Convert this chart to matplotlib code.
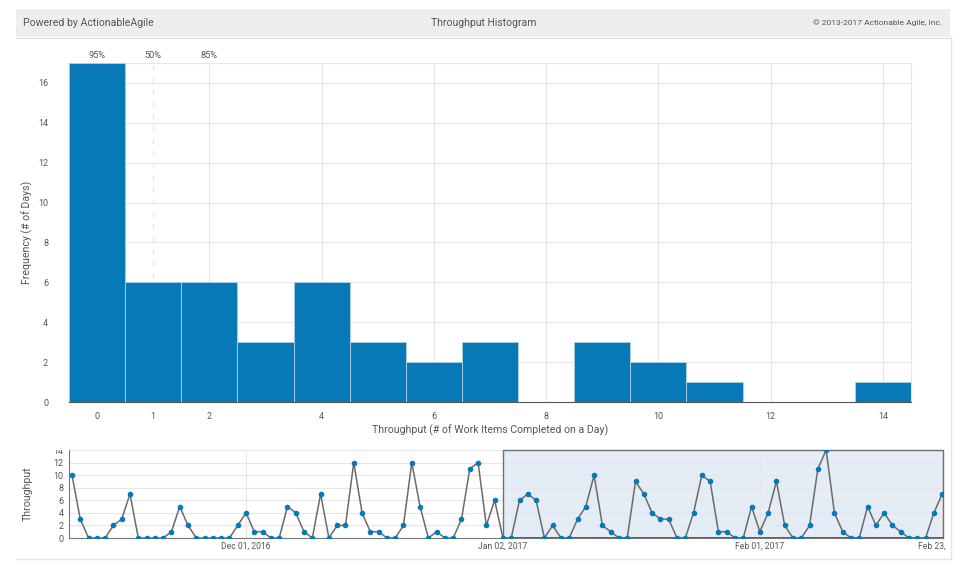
import matplotlib
matplotlib.use("Agg")
import matplotlib.pyplot as plt
from matplotlib.patches import Rectangle

plt.rcParams['font.family'] = ['Roboto', 'DejaVu Sans']

# Histogram data
bins = list(range(15))
frequency = [17, 6, 6, 3, 6, 3, 2, 3, 0, 3, 2, 1, 0, 0, 1]
hist_ticks = [0, 1, 2, 4, 6, 8, 10, 12, 14]
freq_ticks = [0, 2, 4, 6, 8, 10, 12, 14, 16]
percentile_labels = ['95%', '50%', '85%']
percentile_bins = [0, 1, 2]

# Daily throughput
throughput = [
    10, 3, 0, 0, 0, 2, 3, 7, 0, 0, 0, 0, 1, 5, 2, 0, 0, 0, 0, 0, 2, 4, 1, 1, 0, 0, 5, 4, 1, 0, 7,
    0, 2, 2, 12, 4, 1, 1, 0, 0, 2, 12, 5, 0, 1, 0, 0, 3, 11, 12, 2, 6, 0, 0, 6, 7, 6, 0, 2, 0, 0,
    3, 5, 10, 2, 1, 0, 0, 9, 7, 4, 3, 3, 0, 0, 4, 10, 9, 1, 1, 0, 0, 5, 1, 4, 9, 2, 0, 0, 2, 11,
    14, 4, 1, 0, 0, 5, 2, 4, 2, 1, 0, 0, 0, 4, 7,
]
date_idx = [21, 52, 83, 105]
date_labels = ['Dec 01, 2016', 'Jan 02, 2017', 'Feb 01, 2017', 'Feb 23, 2017']
throughput_ticks = [0, 2, 4, 6, 8, 10, 12, 14]
selection_start = 52

W, H = 960, 569
BLUE = '#0779b7'
GRID = '#e6e6e6'
TEXT = '#555555'


def px_axes(fig, left, top, right, bottom):
    return fig.add_axes([left / W, 1 - bottom / H, (right - left) / W, (bottom - top) / H])


fig = plt.figure(figsize=(W / 100, H / 100), dpi=100, facecolor='white')

# panel frame and header
fig.add_artist(Rectangle((16 / W, 1 - 37 / H), 934 / W, 28 / H, transform=fig.transFigure,
                         facecolor='#eeeeee', edgecolor='none'))
fig.add_artist(plt.Line2D([16 / W, 950 / W], [1 - 37.5 / H] * 2, color='#dddddd', lw=0.8))
fig.add_artist(plt.Line2D([16 / W, 950 / W], [1 - 558.5 / H] * 2, color='#e4e4e4', lw=1))
fig.add_artist(plt.Line2D([950.5 / W] * 2, [1 - 37 / H, 1 - 558.5 / H], color='#e4e4e4', lw=1))
fig.text(23 / W, 1 - 23 / H, 'Powered by ActionableAgile', fontsize=7.6, color=TEXT, va='center')
fig.text(483.5 / W, 1 - 23 / H, 'Throughput Histogram', fontsize=7.5, color=TEXT, va='center', ha='center')
fig.text(942 / W, 1 - 23 / H, '© 2013-2017 Actionable Agile, Inc.', fontsize=6.05, color=TEXT,
         va='center', ha='right')

# histogram
ax = px_axes(fig, 69, 63, 911, 402)
ax.bar(bins, frequency, width=1, color=BLUE, edgecolor='#a8cfe4', linewidth=0.7, zorder=3)
ax.set_xlim(-0.5, 14.5)
ax.set_ylim(0, 17)
ax.set_xticks(hist_ticks)
ax.set_yticks(freq_ticks)
ax.tick_params(axis='both', which='both', length=0, labelsize=6.5, labelcolor=TEXT)
ax.tick_params(axis='x', pad=7)
ax.tick_params(axis='y', pad=15)
ax.set_axisbelow(True)
ax.grid(True, axis='y', color=GRID, lw=0.8)
for b in range(2, 15, 2):
    ax.axvline(b, color=GRID, lw=0.8, zorder=1)
ax.axhline(17, color=GRID, lw=1.5, zorder=1)
ax.axvline(1, color='#e2e2e2', lw=0.8, ls=(0, (5, 6)), ymin=6.2 / 17, zorder=1)
ax.spines['top'].set_visible(False)
ax.spines['right'].set_color(GRID)
ax.spines['left'].set_color('#666666')
ax.spines['bottom'].set_color('#555555')
ax.set_xlabel('Throughput (# of Work Items Completed on a Day)', fontsize=7.55, color=TEXT, labelpad=3)
ax.yaxis.set_label_coords((33 - 69) / 842, 0.5)
ax.set_ylabel('Frequency (# of Days)', fontsize=7.55, color=TEXT)
for label, b in zip(percentile_labels, percentile_bins):
    ax.annotate(label, (b, 17), xytext=(0, 2.5), textcoords='offset points', ha='center', va='bottom',
                fontsize=6.6, color=TEXT, annotation_clip=False)

# throughput run chart
ax2 = px_axes(fig, 69, 450, 943, 538)
days = list(range(len(throughput)))
ax2.set_xlim(-0.36, 105.1)
ax2.set_ylim(0, 14)
ax2.axvspan(selection_start, 105.1, color='#e4ecf6', zorder=0, lw=0)
ax2.plot(days, throughput, color='#6b6b6b', lw=1.1, marker='o', markersize=3,
         markerfacecolor=BLUE, markeredgecolor=BLUE, zorder=3)
ax2.set_xticks(date_idx)
ax2.set_xticklabels(date_labels)
ax2.set_yticks(throughput_ticks)
ax2.tick_params(axis='both', length=0, labelsize=6.5, labelcolor=TEXT)
ax2.tick_params(axis='x', labelsize=6.2, pad=3)
ax2.tick_params(axis='y', pad=4)
ax2.grid(True, color=GRID, lw=0.8)
ax2.set_axisbelow(True)
for side in ['top', 'right']:
    ax2.spines[side].set_visible(False)
ax2.spines['left'].set_color('#777777')
ax2.spines['bottom'].set_color('#777777')
ax2.plot([selection_start, selection_start, 105.1, 105.1],
         [0, 14, 14, 0], color='#707070', lw=1, zorder=2, clip_on=False)
ax2.plot([selection_start, 105.1], [0, 0], color='#444444', lw=1.2, zorder=2, clip_on=False)
ax2.yaxis.set_label_coords((33 - 69) / 874, 0.52)
ax2.set_ylabel('Throughput', fontsize=7.55, color=TEXT)

# labels cut off at the panel edges, as in the chart
edge_clip = Rectangle((0, 0), 948 / W, 1, transform=fig.transFigure)
ax2.get_xticklabels()[-1].set_clip_path(edge_clip)
ax2.get_xticklabels()[-1].set_clip_on(True)
top_clip = Rectangle((0, 0), 1, 1 - 449.5 / H, transform=fig.transFigure)
ax2.get_yticklabels()[-1].set_clip_path(top_clip)
ax2.get_yticklabels()[-1].set_clip_on(True)

fig.savefig('out.png', dpi=100)
